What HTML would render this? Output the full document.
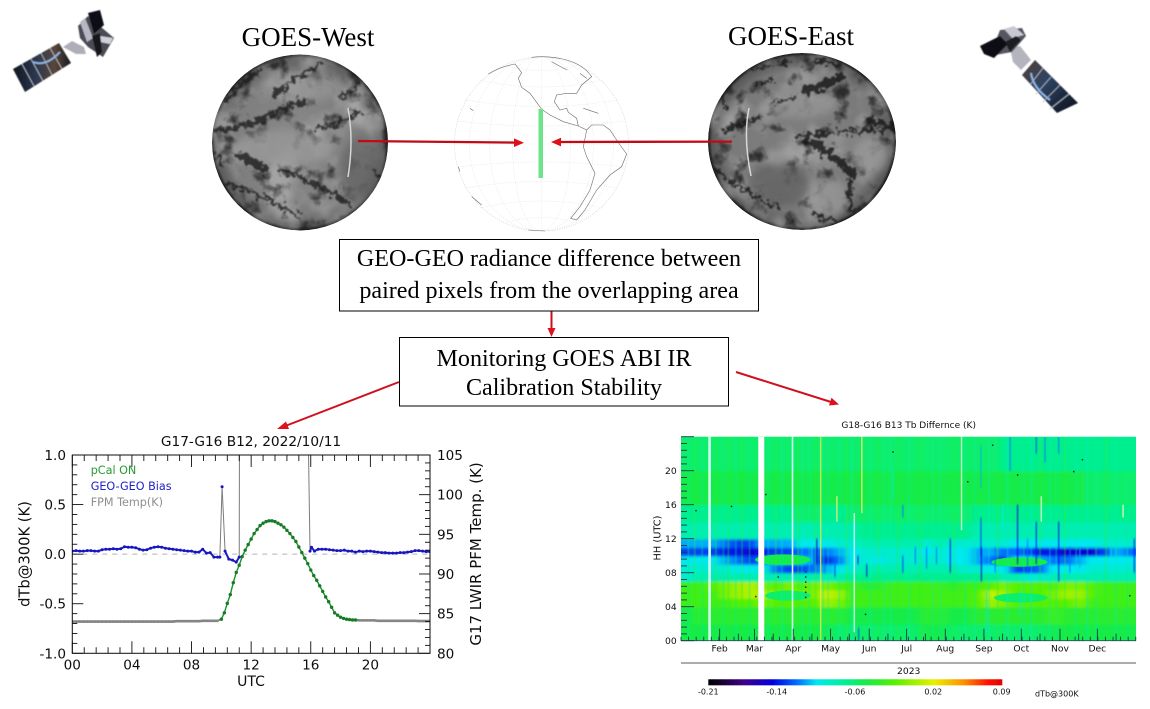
<!DOCTYPE html>
<html lang="en">
<head>
<meta charset="utf-8">
<title>GOES ABI IR calibration stability monitoring</title>
<style>
html,body{margin:0;padding:0;background:#fff;width:1150px;height:709px;overflow:hidden}
svg{display:block}
.serif{font-family:"Liberation Serif",serif;fill:#000}
.dv{font-family:"DejaVu Sans",sans-serif;fill:#111}
</style>
</head>
<body>
<svg id="root" xmlns="http://www.w3.org/2000/svg" width="1150" height="709" viewBox="0 0 1150 709">
<defs>
<radialGradient id="gW" cx="50%" cy="50%" r="50%"><stop offset="0" stop-color="#8a8a8a"/><stop offset=".8" stop-color="#7e7e7e"/><stop offset=".96" stop-color="#5a5a5a"/><stop offset="1" stop-color="#151515"/></radialGradient>
<radialGradient id="gE" cx="50%" cy="50%" r="50%"><stop offset="0" stop-color="#7e7e7e"/><stop offset=".8" stop-color="#7a7a7a"/><stop offset=".96" stop-color="#565656"/><stop offset="1" stop-color="#111111"/></radialGradient>
<filter id="org" x="-10%" y="-10%" width="120%" height="120%" color-interpolation-filters="sRGB"><feTurbulence type="fractalNoise" baseFrequency="0.06" numOctaves="3" seed="7" result="n"/><feDisplacementMap in="SourceGraphic" in2="n" scale="42" xChannelSelector="R" yChannelSelector="G"/><feGaussianBlur stdDeviation="2.6"/></filter>
<filter id="soft" x="-30%" y="-30%" width="160%" height="160%"><feGaussianBlur stdDeviation="12"/></filter>
<filter id="sat" x="-10%" y="-10%" width="120%" height="120%"><feGaussianBlur stdDeviation="0.55"/></filter>
<filter id="arcBlur" x="-50%" y="-5%" width="200%" height="110%"><feGaussianBlur stdDeviation="0.35"/></filter>
<filter id="chartSoft" x="-2%" y="-2%" width="104%" height="104%"><feGaussianBlur stdDeviation="0.3"/></filter>
<filter id="heatBlur" x="-5%" y="-5%" width="110%" height="110%"><feGaussianBlur stdDeviation="4 1.3"/></filter>
<filter id="streakBlur" x="-5%" y="-5%" width="110%" height="110%"><feGaussianBlur stdDeviation="0.55 1"/></filter>
<filter id="cloudDarkW" x="0" y="0" width="100%" height="100%" color-interpolation-filters="sRGB"><feTurbulence type="fractalNoise" baseFrequency="0.055" numOctaves="4" seed="3"/><feColorMatrix values="0 0 0 0 .12 0 0 0 0 .12 0 0 0 0 .12 4 0 0 0 -2.25"/><feGaussianBlur stdDeviation="0.4"/></filter>
<filter id="cloudLightW" x="0" y="0" width="100%" height="100%" color-interpolation-filters="sRGB"><feTurbulence type="fractalNoise" baseFrequency="0.03" numOctaves="3" seed="11"/><feColorMatrix values="0 0 0 0 .75 0 0 0 0 .75 0 0 0 0 .75 0 3 0 0 -1.3"/><feGaussianBlur stdDeviation="1"/></filter>
<filter id="cloudDarkE" x="0" y="0" width="100%" height="100%" color-interpolation-filters="sRGB"><feTurbulence type="fractalNoise" baseFrequency="0.06" numOctaves="4" seed="21"/><feColorMatrix values="0 0 0 0 .1 0 0 0 0 .1 0 0 0 0 .1 4 0 0 0 -2.2"/><feGaussianBlur stdDeviation="0.4"/></filter>
<filter id="cloudLightE" x="0" y="0" width="100%" height="100%" color-interpolation-filters="sRGB"><feTurbulence type="fractalNoise" baseFrequency="0.03" numOctaves="3" seed="30"/><feColorMatrix values="0 0 0 0 .72 0 0 0 0 .72 0 0 0 0 .72 0 3 0 0 -1.3"/><feGaussianBlur stdDeviation="1"/></filter>
<clipPath id="clipW"><ellipse cx="300" cy="142.5" rx="88" ry="88"/></clipPath>
<clipPath id="clipE"><ellipse cx="802" cy="141.5" rx="94" ry="88.5"/></clipPath>
<clipPath id="clipLine"><rect x="72.3" y="455" width="357.7" height="198.3"/></clipPath>
<clipPath id="clipHeat"><rect x="681" y="436.7" width="455" height="204"/></clipPath>
<linearGradient id="panelL" x1="0" y1="0" x2="1" y2="0"><stop offset="0" stop-color="#10161f"/><stop offset=".4" stop-color="#2c3850"/><stop offset=".72" stop-color="#5a4638"/><stop offset="1" stop-color="#161a24"/></linearGradient>
<linearGradient id="panelR" x1="0" y1="0" x2="1" y2="1"><stop offset="0" stop-color="#54402f"/><stop offset=".4" stop-color="#2e4464"/><stop offset="1" stop-color="#0b101a"/></linearGradient>
</defs>

<!-- satellites -->
<g filter="url(#sat)">
<polygon points="13,69 59,43 71,63 25,92" fill="url(#panelL)"/>
<path d="M22,64L34,86M31,59L43,81M41,53L52,75M50,48L62,69" stroke="#b8bcc8" stroke-width="0.8" fill="none"/>
<path d="M33,62Q46,67 60,52" stroke="#8fb4e4" stroke-width="2" fill="none"/>
<polygon points="63,47 72,41 84,47 86,54 76,54" fill="#aeaeb8"/>
<polygon points="78,26 88,16 114,38 103,57 88,47 80,38" fill="#4c4c56"/>
<polygon points="88,13 100,10 104,25 94,34" fill="#101014"/>
<polygon points="80,22 85,18 93,38 87,42" fill="#b8b8c4"/>
<polygon points="100,36 113,38 110,44 100,42" fill="#d0d0d8"/>
<polygon points="92,36 100,33 102,52 97,57" fill="#16161c"/>
</g>
<g filter="url(#sat)">
<polygon points="1035,60 1078,103 1057,113 1022,75" fill="url(#panelR)"/>
<path d="M1043,68L1030,85M1051,77L1036,94M1060,85L1043,102M1069,94L1050,109" stroke="#b8bcc8" stroke-width="0.8" fill="none"/>
<path d="M1031,73Q1033,88 1050,100" stroke="#8fb4e4" stroke-width="2" fill="none"/>
<polygon points="1010,48 1020,46 1031,60 1021,70 1013,62" fill="#b4b4be"/>
<polygon points="1000,30 1022,28 1026,36 1012,52 990,56" fill="#565660"/>
<polygon points="980,46 1000,36 1008,44 994,58 984,54" fill="#101014"/>
<polygon points="1004,29 1014,26 1024,35 1012,38" fill="#c8c8d2"/>
<polygon points="1005,42 1016,36 1021,40 1010,52" fill="#1c1c24"/>
</g>

<!-- titles -->
<text class="serif" x="308" y="46" font-size="27" text-anchor="middle">GOES-West</text>
<text class="serif" x="791" y="45" font-size="27" text-anchor="middle">GOES-East</text>

<!-- west globe -->
<g clip-path="url(#clipW)">
<ellipse cx="300" cy="142.5" rx="88" ry="88" fill="url(#gW)"/>
<rect x="212" y="54" width="176" height="177" filter="url(#cloudLightW)" opacity=".55"/>
<rect x="212" y="54" width="176" height="177" filter="url(#cloudDarkW)" opacity=".8"/>
<g transform="translate(200,20) scale(.33333)">
<g filter="url(#soft)" opacity=".7">
<ellipse cx="250" cy="385" rx="150" ry="55" fill="#9a9a9a"/>
<ellipse cx="310" cy="205" rx="110" ry="40" fill="#969696"/>
<ellipse cx="490" cy="450" rx="70" ry="100" fill="#646464"/>
</g>
<g filter="url(#org)" fill="none" stroke="#1c1c1c" stroke-linecap="round" opacity=".8">
<path d="M80,240Q130,180 185,150" stroke-width="15" stroke-dasharray="38 12 20 14"/>
<path d="M225,225Q290,170 360,135" stroke-width="14" stroke-dasharray="50 14 24 10"/>
<path d="M50,330Q130,330 200,290T320,245" stroke-width="16" stroke-dasharray="46 10 30 14"/>
<path d="M350,325Q410,320 480,275" stroke-width="12" stroke-dasharray="14 14 22 12"/>
<path d="M125,410Q160,425 195,450" stroke-width="26"/>
<path d="M240,450Q340,480 450,555" stroke-width="13" stroke-dasharray="40 12 26 10"/>
<path d="M90,490Q190,530 300,590" stroke-width="14" stroke-dasharray="60 16 30 12"/>
<path d="M420,235L480,190" stroke-width="8"/>
<path d="M40,400L70,430" stroke-width="8"/>
<path d="M520,450L550,500" stroke-width="8"/>
</g>
</g>
<path d="M348,108Q354,140 348,177" fill="none" stroke="#d6d6d6" stroke-width="1.5" filter="url(#arcBlur)"/>
</g>

<!-- east globe -->
<g clip-path="url(#clipE)">
<ellipse cx="802" cy="141.5" rx="94" ry="88.5" fill="url(#gE)"/>
<rect x="708" y="53" width="188" height="177" filter="url(#cloudLightE)" opacity=".55"/>
<rect x="708" y="53" width="188" height="177" filter="url(#cloudDarkE)" opacity=".8"/>
<g transform="translate(640,40) scale(.33333)">
<g filter="url(#soft)" opacity=".75">
<ellipse cx="415" cy="435" rx="95" ry="65" fill="#606060"/>
<ellipse cx="570" cy="470" rx="55" ry="55" fill="#989898"/>
<ellipse cx="690" cy="345" rx="55" ry="55" fill="#9c9c9c"/>
<ellipse cx="480" cy="190" rx="110" ry="45" fill="#969696"/>
</g>
<g filter="url(#org)" fill="none" stroke="#161616" stroke-linecap="round" opacity=".82">
<path d="M500,150Q550,140 605,110" stroke-width="26"/>
<path d="M250,270Q300,255 360,230" stroke-width="12" stroke-dasharray="14 10 20 10"/>
<path d="M400,190Q430,180 470,170" stroke-width="7" stroke-dasharray="10 10"/>
<path d="M470,290Q610,270 760,270" stroke-width="12" stroke-dasharray="22 12 14 16"/>
<path d="M500,300Q560,330 640,400" stroke-width="24" stroke-dasharray="30 12 18 14"/>
<path d="M690,240L755,260" stroke-width="22"/>
<path d="M625,420L635,510" stroke-width="15" stroke-dasharray="26 12"/>
<path d="M225,390Q310,460 420,505" stroke-width="10" stroke-dasharray="40 14"/>
<path d="M520,525L590,545" stroke-width="10"/>
<path d="M340,90Q400,70 460,65" stroke-width="8" stroke-dasharray="24 14"/>
<path d="M520,60L600,75" stroke-width="10"/>
<path d="M240,170L260,200" stroke-width="10"/>
<path d="M350,135L400,120" stroke-width="7"/>
</g>
</g>
<path d="M749,108Q743,137 751,176" fill="none" stroke="#d8d8d8" stroke-width="1.5" filter="url(#arcBlur)"/>
</g>

<!-- middle globe -->
<g>
<g fill="none" stroke="#e6e6e6" stroke-width="0.6" stroke-dasharray="1.2 1.2">
<ellipse cx="541.5" cy="144" rx="87" ry="87" stroke="#cfcfcf"/>
<ellipse cx="541.5" cy="144" rx="72" ry="87"/>
<ellipse cx="541.5" cy="144" rx="52" ry="87"/>
<ellipse cx="541.5" cy="144" rx="29" ry="87"/>
<line x1="541.5" y1="57" x2="541.5" y2="231"/>
<line x1="454.5" y1="144" x2="628.5" y2="144"/>
<path d="M458,121Q541,131 625,121M465,100Q541,113 618,100M480,80Q541,94 603,80M505,65Q541,76 578,65"/>
<path d="M458,167Q541,157 625,167M465,188Q541,175 618,188M480,208Q541,194 603,208M505,223Q541,212 578,223"/>
</g>
<g transform="translate(450,50) scale(.33333)" fill="none" stroke="#6a6a6a" stroke-width="1.8">
<path d="M115,72Q150,50 195,42L215,68L205,85L215,112L240,130L262,160L275,178L300,195L340,215L385,228L410,240L425,225L460,225L480,240L510,285L530,312L515,350L480,375L440,420L405,480L380,510L362,505L390,470L420,420L435,370L410,320L400,290L410,240"/>
<path d="M245,22Q300,16 350,30T425,80L395,105L380,130L350,130L320,135L313,155L330,180L350,175L355,187L380,205L385,228"/>
<path d="M305,35Q330,50 352,60M390,70L410,85M400,175L445,190M60,175L70,182M25,350L30,365M65,440L95,465M235,540L285,543"/>
</g>
<rect x="538.5" y="109" width="4.5" height="69" fill="#6ce58a"/>
</g>

<!-- red arrows -->
<g>
<line x1="358" y1="141" x2="516" y2="142.6" stroke="#c00a16" stroke-width="2.3"/>
<polygon points="524,142.7 514,138.4 514,147" fill="#de101c"/>
</g>
<g>
<line x1="732" y1="141.6" x2="559" y2="142" stroke="#c00a16" stroke-width="2.3"/>
<polygon points="551,142 561,137.8 561,146.4" fill="#de101c"/>
</g>
<g>
<line x1="551.5" y1="311" x2="551.5" y2="329" stroke="#c4101c" stroke-width="2"/>
<polygon points="551.5,337 547.5,328 555.5,328" fill="#e0101c"/>
</g>
<g>
<line x1="399" y1="382" x2="284" y2="426.5" stroke="#d01020" stroke-width="2"/>
<polygon points="277,429 286,421.5 289,429" fill="#e0101c"/>
</g>
<g>
<line x1="736" y1="372" x2="831" y2="402" stroke="#d01020" stroke-width="2"/>
<polygon points="839,404.5 829,405.5 831.5,397.8" fill="#e0101c"/>
</g>

<!-- text boxes -->
<g>
<rect x="339.5" y="239.5" width="419" height="71.5" fill="#fff" stroke="#000" stroke-width="1"/>
<text class="serif" x="549" y="266" font-size="24.1" text-anchor="middle">GEO-GEO radiance difference between</text>
<text class="serif" x="549" y="298" font-size="24.1" text-anchor="middle">paired pixels from the overlapping area</text>
</g>
<g>
<rect x="399.5" y="337.5" width="329" height="68.5" fill="#fff" stroke="#000" stroke-width="1"/>
<text class="serif" x="564" y="366" font-size="24.1" text-anchor="middle">Monitoring GOES ABI IR</text>
<text class="serif" x="564" y="395" font-size="24.1" text-anchor="middle">Calibration Stability</text>
</g>

<g id="lineChart" filter="url(#chartSoft)"></g>
<g id="heatChart" filter="url(#chartSoft)"></g>
</svg>

<script>
/* ---------- line chart data ---------- */
const biasHours = [0,0.25,0.5,0.75,1,1.25,1.5,1.75,2,2.25,2.5,2.75,3,3.25,3.5,3.75,4,4.25,4.5,4.75,5,5.25,5.5,5.75,6,6.25,6.5,6.75,7,7.25,7.5,7.75,8,8.25,8.5,8.75,9,9.25,9.5,9.75,9.9,10.05,10.25,10.5,10.75,11,11.2,11.22,12,13,14,15,15.8,15.95,16.05,16.25,16.5,16.75,17,17.25,17.5,17.75,18,18.25,18.5,18.75,19,19.25,19.5,19.75,20,20.25,20.5,20.75,21,21.25,21.5,21.75,22,22.25,22.5,22.75,23,23.25,23.5,23.75,24];
const biasValues = [0.03,0.035,0.03,0.03,0.035,0.035,0.03,0.03,0.045,0.05,0.05,0.055,0.05,0.055,0.075,0.07,0.07,0.065,0.05,0.04,0.045,0.06,0.07,0.075,0.07,0.06,0.055,0.05,0.045,0.04,0.035,0.03,0.03,0.02,0.02,0.05,0.01,0.015,-0.03,-0.03,-0.03,0.68,0.03,-0.05,-0.06,-0.08,-0.03,1.5,1.5,1.5,1.5,1.5,1.5,0.03,0.07,0.03,0.05,0.05,0.05,0.045,0.04,0.035,0.035,0.04,0.03,0.03,0.02,0.03,0.025,0.03,0.03,0.025,0.02,0.015,0.015,0.01,0.01,0.01,0.015,0.015,0.02,0.025,0.035,0.035,0.03,0.025,0.025];
const tempHours = [0,0.25,0.5,0.75,1,1.25,1.5,1.75,2,2.25,2.5,2.75,3,3.25,3.5,3.75,4,4.25,4.5,4.75,5,5.25,5.5,5.75,6,6.25,6.5,6.75,7,7.25,7.5,7.75,8,8.25,8.5,8.75,9,9.25,9.5,9.75,10,10.2,10.4,10.6,10.8,11,11.2,11.4,11.6,11.8,12,12.2,12.4,12.6,12.8,13,13.2,13.4,13.6,13.8,14,14.2,14.4,14.6,14.8,15,15.2,15.4,15.6,15.8,16,16.2,16.4,16.6,16.8,17,17.2,17.4,17.6,17.8,18,18.2,18.4,18.6,18.8,19,19.25,19.5,19.75,20,20.25,20.5,20.75,21,21.25,21.5,21.75,22,22.25,22.5,22.75,23,23.25,23.5,23.75,24];
const tempValues = [84,84,84,84,84,84,84,84,84,84,84,84,84,84,84,84,84,84,84,84,84,84,84,84,84,84,84,84,84.05,84.05,84.05,84.05,84.05,84.05,84.05,84.1,84.1,84.1,84.1,84.1,84.3,85.1,86.3,87.4,88.9,90.2,91.1,92.2,93,93.7,94.4,95.1,95.6,96.1,96.4,96.6,96.7,96.7,96.6,96.4,96.2,95.9,95.5,95.1,94.6,94.1,93.4,92.7,92,91.3,90.5,89.8,89.2,88.5,87.8,87.1,86.5,85.8,85.1,84.8,84.55,84.4,84.3,84.25,84.2,84.2,84.15,84.15,84.15,84.15,84.15,84.1,84.1,84.1,84.1,84.1,84.1,84.1,84.1,84.1,84.1,84.1,84.07,84.07,84.07,84.07];
const pCalWindow = [10, 19];
const xTickLabels = ['00','04','08','12','16','20'];
const xTickHours = [0,4,8,12,16,20];
const leftTickLabels = ['1.0','0.5','0.0','-0.5','-1.0'];
const leftTickValues = [1,0.5,0,-0.5,-1];
const rightTickLabels = ['105','100','95','90','85','80'];
const rightTickValues = [105,100,95,90,85,80];
const legendLabels = ['pCal ON','GEO-GEO Bias','FPM Temp(K)'];

/* ---------- heatmap data ---------- */
const hourBins = [0,2,4,5,6,7,8,9,10,11,12,14,16,20,24];
const heatCentiK = [
[-5,-5,-5,-5,-5,-5,-5,-5,-5,-5,-5,-5,-6,-6,-6,-6,-6,-6,-6,-5,-5,-6,-6,-6,-6,-6,-6,-6,-6,-5,-5,-5,-5,-5,-5,-5],
[-5,-4,-4,-4,-4,-4,-4,-4,-4,-4,-4,-4,-4,-5,-5,-5,-5,-5,-5,-4,-4,-5,-5,-4,-4,-4,-4,-4,-4,-3,-4,-4,-4,-4,-4,-4],
[-3,-3,-3,-3,-2,-2,-1,-2,-2,-2,-2,0,-1,-3,-3,-3,-3,-3,-3,-3,-3,-3,-3,-2,0,-1,-2,-2,-2,-2,-2,-1,-3,-3,-3,-3],
[-3,-3,-3,-1,0,0.5,0.5,-1,-1,-1,-1,1,0,-3,-3,-3,-3,-3,-3,-3,-3,-3,-3,-2,1,0,-2,-2,-2,-1,0,0,-2,-3,-3,-3],
[-3,-3,-2,-1,0,0.5,-1,-2,-1,-2,-1,-1,-2,-3,-4,-4,-3,-3,-3,-3,-3,-4,-3,-3,-2,-1,-2,-2,-2,-2,-1,-1,-2,-3,-3,-3],
[-9,-8,-8,-8,-8,-8,-8,-8,-8,-8,-8,-8,-8,-7,-7,-7,-7,-7,-7,-7,-7,-7,-7,-7,-7,-8,-8,-9,-9,-8,-8,-8,-8,-8,-8,-8],
[-9,-9,-9,-9,-10,-10,-9,-12,-13,-13,-12,-11,-10,-9,-8,-8,-8,-8,-8,-8,-8,-8,-9,-9,-10,-10,-13,-13,-12,-10,-10,-10,-9,-9,-9,-9],
[-10,-10,-10,-11,-12,-13,-12,-10,-10,-10,-12,-14,-12,-10,-9,-10,-9,-9,-9,-9,-9,-10,-10,-11,-12,-14,-10,-10,-11,-12,-12,-11,-10,-10,-10,-10],
[-13,-13,-13,-14,-14,-15,-14,-13,-13,-12,-12,-12,-11,-10,-9,-9,-9,-9,-9,-10,-9,-10,-10,-11,-11,-12,-12,-13,-14,-14,-15,-15,-15,-13,-11,-12],
[-11,-11,-11,-12,-13,-13,-11,-11,-11,-10,-10,-10,-9,-9,-8,-8,-8,-8,-8,-9,-8,-9,-9,-9,-9,-9,-10,-10,-10,-10,-10,-10,-10,-9,-9,-9],
[-8,-8,-8,-8,-8,-8,-8,-8,-8,-8,-8,-8,-8,-8,-7,-7,-7,-7,-7,-7,-7,-7,-7,-8,-8,-8,-8,-8,-8,-8,-8,-8,-8,-8,-8,-8],
[-7,-7,-7,-7,-7,-7,-7,-7,-7,-6,-6,-7,-7,-6,-6,-6,-6,-6,-6,-6,-6,-6,-6,-7,-7,-7,-7,-7,-7,-7,-7,-7,-7,-7,-7,-7],
[-5,-5,-5,-5,-5,-5,-5,-5,-5,-5,-5,-5,-5,-5,-5,-5,-5,-5,-5,-5,-5,-5,-5,-5,-5,-5,-5,-5,-5,-5,-5,-5,-6,-6,-6,-6],
[-6,-6,-6,-6,-6,-6,-6,-6,-6,-6,-6,-6,-6,-6,-6,-6,-6,-6,-6,-6,-6,-6,-6,-6,-6,-7,-7,-7,-7,-7,-7,-7,-7,-7,-7,-7]
];
const monthLabels = ['Feb','Mar','Apr','May','Jun','Jul','Aug','Sep','Oct','Nov','Dec'];
const monthDays = [31,59,90,120,151,181,212,243,273,304,334];
const hourTickLabels = ['00','04','08','12','16','20'];
const hourTickValues = [0,4,8,12,16,20];
const colorbarLabels = ['-0.21','-0.14','-0.06','0.02','0.09'];
const colorbarValues = [-0.21,-0.14,-0.06,0.02,0.09];
const colorStopValues = [-0.21,-0.175,-0.145,-0.12,-0.1,-0.075,-0.05,-0.02,0.02,0.05,0.075,0.09];
const colorStopColors = ['#000000','#40008a','#0000e0','#0070ff','#00e8f0','#00f0a0','#14ec48','#58f000','#e8f000','#ff9000','#ff1000','#e00000'];
/* eclipse-season patches */
const patchStart = [59.4,67.4,249,251];
const patchEnd = [104,104,294,294];
const patchLow = [8.9,4.7,8.7,4.5];
const patchHigh = [10.15,5.9,9.8,5.6];
const patchValue = [-5,-6,-5,-6];
/* missing data */
const gapStart = [21.9,62,88.8];
const gapEnd = [24,66.8,90.1];
/* strong single-day anomalies */
const streakDay = [240.6,241,240.6,264,270,285,285,292,303,303,188,197,216,363.6,142,149,178,178,131.6,170,123.5,109,142.5,98,105,115,205,252,258,278,312,320,345,272,245];
const streakLow = [10,7,18,20,9,9,22,21,22,7,9,8.5,8,8,9,7.5,8,14.5,14.5,16.5,7.5,9,0,11,9,8,9,8,13,8,8,8.5,8,3,1];
const streakHigh = [14.5,11,23,24,16,14,24,24,24,14,11,11,12,12,10,9,10,16,16,20,9,12,1.5,13,12,10,11,11,16,12,11,11,11,6,6];
const streakValue = [-13,-15,-11,-12,-15,-14,-13,-12,-12,-14,-12,-12,-14,-14,-16,-14,-13,-12,-9,-9,-13,-15,-13,-10,-10,-12,-12,-12,-10,-12,-12,-11,-10,-9,-9];
/* faint full-height day-to-day texture */
const textureDays = [6,11,17,28,34,38,44,49,55,70,76,81,94,97,103,108,114,118,127,133,137,152,158,163,168,174,183,192,202,208,219,228,236,247,254,262,275,281,288,296,301,308,317,326,333,341,349,358];
const textureValues = [-7,-4,-7,-4,-7,-4,-7,-4,-7,-8,-4,-8,-4,-8,-8,-4,-8,-8,-8,-4,-9,-8,-4,-8,-8,-4,-8,-4,-8,-8,-4,-8,-8,-9,-4,-9,-8,-9,-4,-9,-8,-4,-8,-9,-8,-4,-8,-7];
/* pale partial-day stripes */
const paleDay = [139,145,225,125,112,289,354.6];
const paleLow = [1,15,13,14,0,14,14.5];
const paleHigh = [15,24,24,17,24,17,16];
const paleTint = ['#d0ffe8','#e8f070','#d8f8c8','#e0f078','#d8ec50','#d8ffd0','#e8f8a0'];
const dotDay = [40.5,68,170,148,78,230,250,270,322,315,360,60,12,100,100,100,100,100,100];
const dotHour = [15.8,17.2,22.2,3.1,7.5,18.7,23,19.5,21.3,19.9,5.3,5.2,15.3,5.1,5.7,6.3,6.9,7.5,8.1];

/* ---------- helpers ---------- */
const NS = 'http://www.w3.org/2000/svg';
function mk(tag, attrs, parent, txt){
  const el = document.createElementNS(NS, tag);
  for (const k in attrs) el.setAttribute(k, attrs[k]);
  if (txt !== undefined) el.textContent = txt;
  parent.appendChild(el);
  return el;
}

/* ---------- draw line chart ---------- */
const lc = document.getElementById('lineChart');
const X0=72.3, X1=430, YT=455, YB=653.3;
const sx = h => X0 + (h/24)*(X1-X0);
const syL = v => YB - ((v+1)/2)*(YB-YT);
const syR = k => YB - ((k-80)/25)*(YB-YT);
const title = mk('text',{class:'dv',x:251,y:446,'font-size':13.7,'text-anchor':'middle'},lc,'G17-G16 B12, 2022/10/11');



const zero = mk('line',{x1:X0,x2:X1,y1:syL(0),y2:syL(0),stroke:'#b4b4b4','stroke-width':1,'stroke-dasharray':'5 5'},lc);



const series = mk('g',{'clip-path':'url(#clipLine)'},lc);



const inPCal = h => h>=pCalWindow[0] && h<=pCalWindow[1];
for (let i=1;i<tempHours.length;i++){
  const seg = mk('line',{x1:sx(tempHours[i-1]),y1:syR(tempValues[i-1]),x2:sx(tempHours[i]),y2:syR(tempValues[i]),stroke:inPCal(tempHours[i])?'#1f8f2a':'#858585','stroke-width':inPCal(tempHours[i])?1.4:2.6},series);
  
  
}
tempHours.forEach((h,i)=>{
  const m = mk('circle',{cx:sx(h),cy:syR(tempValues[i]),r:inPCal(h)?1.7:1.3,fill:inPCal(h)?'#127a26':'#858585'},series);
  
  
});
for (let i=1;i<biasHours.length;i++){
  const jump = Math.abs(biasValues[i]-biasValues[i-1])>0.3;
  const seg = mk('line',{x1:sx(biasHours[i-1]),y1:syL(biasValues[i-1]),x2:sx(biasHours[i]),y2:syL(biasValues[i]),stroke:jump?'#7c7c7c':'#1c1cc4','stroke-width':jump?1:2},series);
  
  
}
biasHours.forEach((h,i)=>{
  const m = mk('circle',{cx:sx(h),cy:syL(biasValues[i]),r:1.5,fill:'#1414c0'},series);
  
  
});

const frame = mk('rect',{x:X0,y:YT,width:X1-X0,height:YB-YT,fill:'none',stroke:'#111','stroke-width':1},lc);


const tg = mk('g',{stroke:'#111','stroke-width':0.9},lc);


for (let i=0;i<=30;i++){
  const h=i*0.8, len=i%5===0?12:6, x=sx(h);
  mk('line',{x1:x,x2:x,y1:YB,y2:YB-len},tg);
  mk('line',{x1:x,x2:x,y1:YT,y2:YT+len},tg);
}
for (let i=0;i<=20;i++){
  const v=-1+i*0.1, len=i%5===0?11:5, y=syL(v);
  mk('line',{x1:X0,x2:X0+len,y1:y,y2:y},tg);
}
for (let i=0;i<=25;i++){
  const k=80+i, len=i%5===0?11:5, y=syR(k);
  mk('line',{x1:X1,x2:X1-len,y1:y,y2:y},tg);
}
xTickHours.forEach((h,i)=>{
  const t = mk('text',{class:'dv',x:sx(h),y:669.5,'font-size':13.6,'text-anchor':'middle'},lc,xTickLabels[i]);
  
  
});
leftTickValues.forEach((v,i)=>{
  const t = mk('text',{class:'dv',x:66,y:syL(v)+5,'font-size':13.6,'text-anchor':'end'},lc,leftTickLabels[i]);
  
  
});
rightTickValues.forEach((k,i)=>{
  const t = mk('text',{class:'dv',x:437,y:syR(k)+5,'font-size':13.6},lc,rightTickLabels[i]);
  
  
});
const xt = mk('text',{class:'dv',x:251,y:686,'font-size':14,'text-anchor':'middle'},lc,'UTC');


const ylt = mk('text',{class:'dv',transform:'translate(29.5,554) rotate(-90)','font-size':14.7,'text-anchor':'middle'},lc,'dTb@300K (K)');


const yrt = mk('text',{class:'dv',transform:'translate(481,554) rotate(-90)','font-size':15,'text-anchor':'middle'},lc,'G17 LWIR PFM Temp. (K)');


const legendColors = ['#2a9a35','#2222c8','#8e8e8e'];
legendLabels.forEach((s,i)=>{
  const t = mk('text',{class:'dv',x:90.7,y:474+i*16,'font-size':11.2,style:'fill:'+legendColors[i]},lc,s);
  
  
});

/* ---------- draw heatmap ---------- */
const hc = document.getElementById('heatChart');
const HX0=681, HX1=1136, HYT=436.7, HYB=640.7;
const dx = d => HX0 + (d/365)*(HX1-HX0);
const hy = h => HYB - (h/24)*(HYB-HYT);
function hex2(c){return [1,3,5].map(i=>parseInt(c.substr(i,2),16));}
function colorOf(v){
  const s=colorStopValues, c=colorStopColors;
  if (v<=s[0]) return c[0];
  for (let i=1;i<s.length;i++){
    if (v<=s[i]){
      const t=(v-s[i-1])/(s[i]-s[i-1]), a=hex2(c[i-1]), b=hex2(c[i]);
      return 'rgb('+a.map((q,j)=>Math.round(q+(b[j]-q)*t)).join(',')+')';
    }
  }
  return c[c.length-1];
}
const ht = mk('text',{class:'dv',x:908.7,y:428,'font-size':9,'text-anchor':'middle'},hc,'G18-G16 B13 Tb Differnce (K)');



const clipG = mk('g',{'clip-path':'url(#clipHeat)'},hc);


const cells = mk('g',{filter:'url(#heatBlur)'},clipG);


const nCols = heatCentiK[0].length, colDays = 365/nCols;
heatCentiK.forEach((row,r)=>{
  row.forEach((val,c)=>{
    const xa = c===0 ? HX0-12 : dx(c*colDays);
    const xb = c===nCols-1 ? HX1+12 : dx((c+1)*colDays);
    const ya = r===heatCentiK.length-1 ? HYT-8 : hy(hourBins[r+1]);
    const yb = r===0 ? HYB+8 : hy(hourBins[r]);
    const cell = mk('rect',{x:xa,y:ya,width:xb-xa+0.6,height:yb-ya+0.6,fill:colorOf(val/100)},cells);
    
    
  });
});
const patches = mk('g',{},clipG);


const textures = mk('g',{filter:'url(#streakBlur)'},clipG);


textureDays.forEach((d,i)=>{
  const s = mk('rect',{x:dx(d)-0.9,y:HYT-4,width:1.8,height:HYB-HYT+8,fill:colorOf(textureValues[i]/100),opacity:0.35},textures);
  
  
});
patchValue.forEach((v,i)=>{
  const p = mk('ellipse',{cx:dx((patchStart[i]+patchEnd[i])/2),cy:hy((patchLow[i]+patchHigh[i])/2),rx:(dx(patchEnd[i])-dx(patchStart[i]))/2,ry:(hy(patchLow[i])-hy(patchHigh[i]))/2,fill:colorOf(v/100)},patches);
  
  
});
const streaks = mk('g',{filter:'url(#streakBlur)'},clipG);


streakDay.forEach((d,i)=>{
  const s = mk('rect',{x:dx(d)-0.7,y:hy(streakHigh[i]),width:1.4,height:hy(streakLow[i])-hy(streakHigh[i]),fill:colorOf(streakValue[i]/100),opacity:0.7},streaks);
  
  
});
paleDay.forEach((d,i)=>{
  const s = mk('rect',{x:dx(d)-0.7,y:hy(paleHigh[i]),width:1.5,height:hy(paleLow[i])-hy(paleHigh[i]),fill:paleTint[i],opacity:0.85},clipG);
  
  
});
gapStart.forEach((d,i)=>{
  const g = mk('rect',{x:dx(d),y:HYT,width:dx(gapEnd[i])-dx(d),height:HYB-HYT,fill:i===1?'#ffffff':'#d2fff0'},clipG);
  
  
});
dotDay.forEach((d,i)=>{
  const o = mk('rect',{x:dx(d)-0.7,y:hy(dotHour[i])-0.7,width:1.5,height:1.5,fill:'#183038'},clipG);
  
  
});
const hticks = mk('g',{stroke:'#17394a','stroke-width':0.9},hc);


mk('line',{x1:HX0,x2:HX1,y1:HYB,y2:HYB,stroke:'#24505a'},hticks);
for (let i=0;i<=30;i++){
  const h=i*0.8, y=hy(h), len=i%5===0?13:6;
  mk('line',{x1:HX0,x2:HX0+len,y1:y,y2:y},hticks);
}
for (let d=0;d<=365;d+=6.08){
  mk('line',{x1:dx(d),x2:dx(d),y1:HYB,y2:HYB-4},hticks);
}
monthDays.forEach(d=>{
  mk('line',{x1:dx(d),x2:dx(d),y1:HYB,y2:HYB-12},hticks);
  mk('line',{x1:dx(d+15),x2:dx(d+15),y1:HYB,y2:HYB-7},hticks);
});
hourTickValues.forEach((h,i)=>{
  const t = mk('text',{class:'dv',x:676.7,y:hy(h)+3.4,'font-size':9.2,'text-anchor':'end'},hc,hourTickLabels[i]);
  
  
});
monthDays.forEach((d,i)=>{
  const t = mk('text',{class:'dv',x:dx(d),y:651.5,'font-size':9.2,'text-anchor':'middle'},hc,monthLabels[i]);
  
  
});
const hyl = mk('text',{class:'dv',transform:'translate(660.5,538) rotate(-90)','font-size':9.8,'text-anchor':'middle'},hc,'HH (UTC)');


const yrl = mk('line',{x1:HX0,x2:HX1,y1:663,y2:663,stroke:'#5a5a5a','stroke-width':1},hc);


const yr = mk('text',{class:'dv',x:908.7,y:674,'font-size':9.2,'text-anchor':'middle'},hc,'2023');



/* colorbar */
const CB0=708.3, CB1=1001.7;
const cbx = v => CB0 + ((v+0.21)/0.3)*(CB1-CB0);
const cbG = mk('g',{},hc);


for (let i=0;i<147;i++){
  const v=-0.21+i*0.3/147;
  const sw = mk('rect',{x:cbx(v),y:679.3,width:2.6,height:6,fill:colorOf(v)},cbG);
  
  
}
colorbarValues.forEach((v,i)=>{
  const t = mk('text',{class:'dv',x:cbx(v),y:694.3,'font-size':8,'text-anchor':'middle'},hc,colorbarLabels[i]);
  
  
});
const cbt = mk('text',{class:'dv',x:1035,y:696.7,'font-size':8},hc,'dTb@300K');


</script>
</body>
</html>
